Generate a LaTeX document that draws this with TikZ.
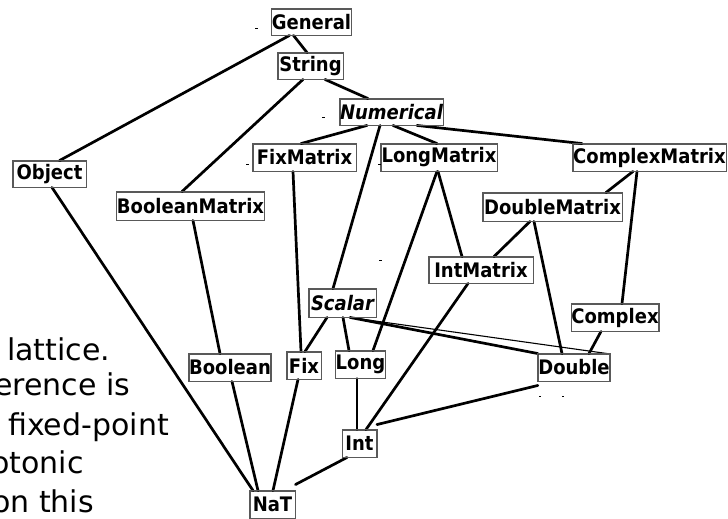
\documentclass[tikz,border=0pt]{standalone}
\usepackage{fontspec}
\setmainfont{DejaVu Sans}
\newfontfamily\labelfont{DejaVu Sans Bold}[FakeStretch=0.9]
\newfontfamily\labelslant{DejaVu Sans Bold Oblique}[FakeStretch=0.9]
\begin{document}
\begin{tikzpicture}[x=1pt,y=-1pt,
  typebox/.style={draw=black!65,line width=0.9pt,fill=white,inner sep=0pt,
    font=\labelfont\fontsize{20}{20}\selectfont},
  slanted/.style={font=\labelslant\fontsize{20}{20}\selectfont},
  link/.style={line width=2.7pt,line cap=round},
  thinlink/.style={line width=1.1pt},
  speck/.style={line width=0.8pt},
  prose/.style={anchor=base west,inner sep=0pt,font=\fontsize{30}{30}\selectfont}]
\useasboundingbox (0,0) rectangle (728,519);
\begin{scope}
\clip (0,0) rectangle (728,519);

% left-hand text, partly running off the page edge
\node[prose] (t1) at (7,360) {lattice.};
\node[prose] (t2) at (-6,395) {erence is};
\node[prose] (t3) at (8,435) {fixed-point};
\node[prose] (t4) at (-9,473) {otonic};
\node[prose] (t5) at (-8,512) {on this};

% type nodes
\node[typebox,minimum width=79pt,minimum height=26pt] (General) at (311.5,22) {General};
\node[typebox,minimum width=65pt,minimum height=26pt] (String) at (310.5,66) {String};
\node[typebox,slanted,minimum width=103pt,minimum height=26pt] (Numerical) at (391.5,112) {Numerical};
\node[typebox,minimum width=103pt,minimum height=27pt] (FixMatrix) at (304.5,157.5) {FixMatrix};
\node[typebox,minimum width=116pt,minimum height=27pt] (LongMatrix) at (439,157.5) {LongMatrix};
\node[typebox,minimum width=153pt,minimum height=27pt] (ComplexMatrix) at (649.5,157.5) {ComplexMatrix};
\node[typebox,minimum width=73pt,minimum height=26pt] (Object) at (49.5,174) {Object};
\node[typebox,minimum width=147pt,minimum height=28pt] (BooleanMatrix) at (190.5,206) {BooleanMatrix};
\node[typebox,minimum width=139pt,minimum height=28pt] (DoubleMatrix) at (552.5,207) {DoubleMatrix};
\node[typebox,minimum width=104pt,minimum height=26pt] (IntMatrix) at (481,270) {IntMatrix};
\node[typebox,slanted,minimum width=67pt,minimum height=28pt] (Scalar) at (342.5,303) {Scalar};
\node[typebox,minimum width=84pt,minimum height=27pt] (Complex) at (615,317.5) {Complex};
\node[typebox,minimum width=78pt,minimum height=27pt] (Boolean) at (230,367.5) {Boolean};
\node[typebox,minimum width=34pt,minimum height=27pt] (Fix) at (304,365.5) {Fix};
\node[typebox,minimum width=47pt,minimum height=27pt] (Long) at (360.5,364.5) {Long};
\node[typebox,minimum width=68pt,minimum height=27pt] (Double) at (574,367.5) {Double};
\node[typebox,minimum width=34pt,minimum height=27pt] (Int) at (359.5,443.5) {Int};
\node[typebox,minimum width=45pt,minimum height=27pt] (NaT) at (272.5,504.5) {NaT};

% lattice edges
\draw[link] ([xshift=-22pt]General.south) -- ([xshift=10pt]Object.north);
\draw[link] ([xshift=-18pt]General.south) -- ([xshift=-3.5pt]String.north);
\draw[link] ([xshift=-7.5pt]String.south) -- ([xshift=-8.5pt]BooleanMatrix.north);
\draw[link] ([xshift=14.5pt]String.south) -- ([xshift=-23.5pt]Numerical.north);
\draw[link] ([xshift=-24.5pt]Numerical.south) -- ([xshift=-3.5pt]FixMatrix.north);
\draw[link] ([xshift=-11.5pt]Numerical.south) -- ([xshift=-9.5pt]Scalar.north);
\draw[link] ([xshift=1.5pt]Numerical.south) -- ([xshift=-2pt]LongMatrix.north);
\draw[link] ([xshift=25.5pt]Numerical.south) -- ([xshift=-67.5pt]ComplexMatrix.north);
\draw[link] ([xshift=-11.5pt]FixMatrix.south) -- ([xshift=-3pt]Fix.north);
\draw[link] ([xshift=2.5pt]Object.south) -- ([xshift=-19.5pt]NaT.north);
\draw[link] ([xshift=2.5pt]BooleanMatrix.south) -- ([xshift=-10pt]Boolean.north);
\draw[link] ([xshift=2pt]Boolean.south) -- ([xshift=-14.5pt]NaT.north);
\draw[link] ([xshift=-6pt]Fix.south) -- ([xshift=0.5pt]NaT.north);
\draw[link] ([xshift=-15.5pt]Scalar.south) -- ([xshift=1pt]Fix.north);
\draw[link] ([xshift=0.5pt]Scalar.south) -- ([xshift=-11.5pt]Long.north);
\draw[link] ([xshift=-2pt]LongMatrix.south) -- ([xshift=12.5pt]Long.north);
\draw[link] ([xshift=-1pt]LongMatrix.south) -- ([xshift=-19pt]IntMatrix.north);
\draw[link] ([xshift=7.5pt]Scalar.south) -- (Double.north west);
\draw[thinlink] ([xshift=7.5pt]Scalar.south) -- ([xshift=-3pt]Double.north east);
\draw[link] ([xshift=-22.5pt]DoubleMatrix.south) -- ([xshift=13pt]IntMatrix.north);
\draw[link] ([xshift=-18.5pt]DoubleMatrix.south) -- ([xshift=-12pt]Double.north);
\draw[link] ([xshift=-16.5pt]ComplexMatrix.south) -- ([xshift=53.5pt]DoubleMatrix.north);
\draw[link] ([xshift=-12.5pt]ComplexMatrix.south) -- ([xshift=7pt]Complex.north);
\draw[link] ([xshift=-14pt]Complex.south) -- ([xshift=15pt]Double.north);
\draw[link] ([xshift=-13pt]IntMatrix.south) -- ([xshift=6.5pt]Int.north);
\draw[link] ([xshift=-3.5pt]Long.south) -- ([xshift=-2.5pt]Int.north);
\draw[link] ([yshift=-4pt]Double.south west) -- ([yshift=5pt]Int.north east);
\draw[link] ([xshift=-12.5pt]Int.south) -- ([yshift=6pt]NaT.north east);

% box outlines kept crisp over the edge ends
\foreach \n in {General,String,Numerical,FixMatrix,LongMatrix,ComplexMatrix,Object,
  BooleanMatrix,DoubleMatrix,IntMatrix,Scalar,Complex,Boolean,Fix,Long,Double,Int,NaT}{
  \draw[draw=black!65,line width=0.9pt] (\n.north west) rectangle (\n.south east);
}

% small stray specks
\draw[speck] (255,28) -- (258,28);
\draw[speck] (322,117) -- (325,117);
\draw[speck] (246,164) -- (249,164);
\draw[speck] (378,164) -- (381,164);
\draw[speck] (379,260) -- (382,260);
\draw[speck] (539,396) -- (541,396);
\draw[speck] (562,396) -- (564,396);
\end{scope}
\end{tikzpicture}
\end{document}
